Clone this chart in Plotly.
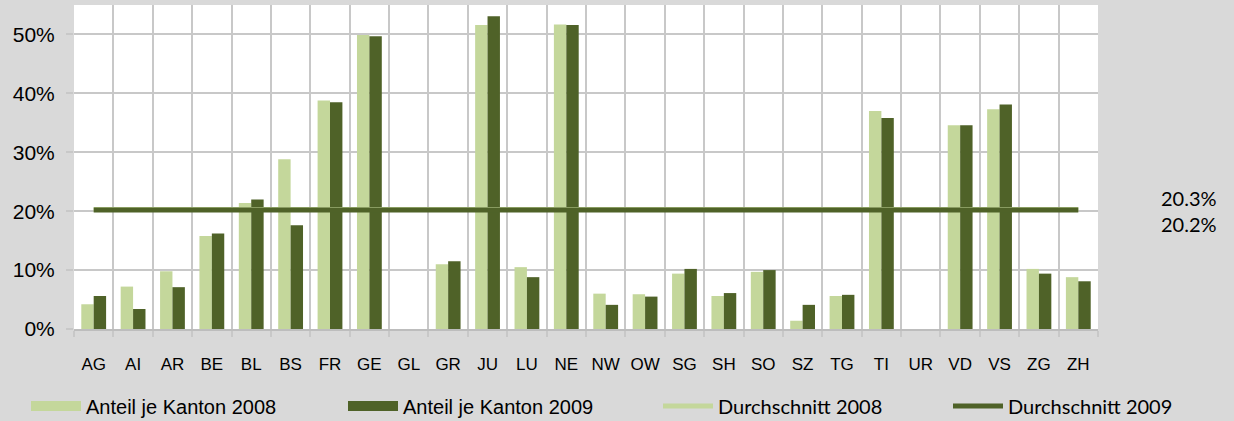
import plotly.graph_objects as go

cantons = ["AG", "AI", "AR", "BE", "BL", "BS", "FR", "GE", "GL", "GR", "JU", "LU", "NE",
           "NW", "OW", "SG", "SH", "SO", "SZ", "TG", "TI", "UR", "VD", "VS", "ZG", "ZH"]

share_2008 = [0.042, 0.072, 0.098, 0.158, 0.214, 0.288, 0.388, 0.499, 0.0, 0.110, 0.516, 0.105, 0.517,
              0.060, 0.059, 0.094, 0.056, 0.097, 0.014, 0.056, 0.370, 0.0, 0.346, 0.373, 0.102, 0.088]
share_2009 = [0.056, 0.034, 0.071, 0.162, 0.220, 0.176, 0.385, 0.497, 0.0, 0.115, 0.531, 0.088, 0.516,
              0.041, 0.055, 0.102, 0.061, 0.100, 0.041, 0.058, 0.358, 0.0, 0.346, 0.381, 0.094, 0.081]
avg_2008 = 0.203
avg_2009 = 0.202
avg_labels = ["20.3%", "20.2%"]
series_names = ["Anteil je Kanton 2008", "Anteil je Kanton 2009",
                "Durchschnitt 2008", "Durchschnitt 2009"]

light = "#c4d79b"
dark = "#4f6228"
grid = "#c8c8c8"
calib = "Lato, Carlito, Calibri, sans-serif"
arial = "Liberation Sans, Arial, sans-serif"

fig = go.Figure()
# bars (legend shown through wide rectangular swatches below)
fig.add_trace(go.Bar(x=cantons, y=share_2008, name=series_names[0], legendgroup="b08",
                     showlegend=False, marker=dict(color=light, line=dict(width=0))))
fig.add_trace(go.Bar(x=cantons, y=share_2009, name=series_names[1], legendgroup="b09",
                     showlegend=False, marker=dict(color=dark, line=dict(width=0))))
fig.add_trace(go.Scatter(x=[cantons[0], cantons[-1]], y=[avg_2008, avg_2008], mode="lines",
                         name=series_names[2], legend="legend3",
                         line=dict(color=light, width=5)))
fig.add_trace(go.Scatter(x=[cantons[0], cantons[-1]], y=[avg_2009, avg_2009], mode="lines",
                         name=series_names[3], legend="legend4",
                         line=dict(color=dark, width=5)))
# legend swatches for the bar series
fig.add_trace(go.Scatter(x=[None], y=[None], mode="lines", name=series_names[0], legend="legend",
                         legendgroup="b08", line=dict(color=light, width=10), hoverinfo="skip"))
fig.add_trace(go.Scatter(x=[None], y=[None], mode="lines", name=series_names[1], legend="legend2",
                         legendgroup="b09", line=dict(color=dark, width=10), hoverinfo="skip"))

fig.add_annotation(xref="paper", yref="paper", x=(1189 - 74) / 1024, y=(329 - 210.5) / 324,
                   text="<br>".join(avg_labels), showarrow=False,
                   xanchor="center", yanchor="middle", align="center",
                   font=dict(family=calib, size=20, color="#000000"))


def leg(text_x, fam):
    return dict(orientation="h", x=(text_x - 60 - 74) / 1024, y=(329 - 406) / 324,
                xanchor="left", yanchor="middle", bgcolor="rgba(0,0,0,0)",
                itemwidth=50, itemclick=False, itemdoubleclick=False,
                font=dict(family=fam, size=20, color="#000000"))


fig.update_layout(
    width=1234, height=421,
    margin=dict(l=74, r=136, t=5, b=92, autoexpand=False),
    paper_bgcolor="#d9d9d9", plot_bgcolor="#ffffff",
    barmode="group", bargap=0.37, bargroupgap=0,
    font=dict(family=arial, size=20, color="#000000"),
    showlegend=True,
    legend=leg(86, arial),
    legend2=leg(403, arial),
    legend3=leg(718, calib),
    legend4=leg(1008, calib),
    xaxis=dict(type="category", tickson="boundaries", showgrid=True, gridcolor=grid, gridwidth=1.5,
               ticks="outside", ticklen=6, tickcolor=grid, tickwidth=1.5,
               showline=True, linecolor="#bdbdbd", linewidth=2, tickangle=0, automargin=False,
               tickfont=dict(family=arial, size=17), ticklabelstandoff=19, fixedrange=True),
    yaxis=dict(range=[0, 0.55], dtick=0.1, tickformat=".0%", showgrid=True, gridcolor=grid,
               gridwidth=1.5, ticks="outside", ticklen=7, tickcolor=grid, tickwidth=1.5,
               zeroline=False, showline=False, tickfont=dict(family=arial, size=21),
               ticklabelstandoff=7, automargin=False, fixedrange=True),
)

fig.write_html("out.html", config={"displayModeBar": False},
               post_script="document.body.style.margin='0';")
